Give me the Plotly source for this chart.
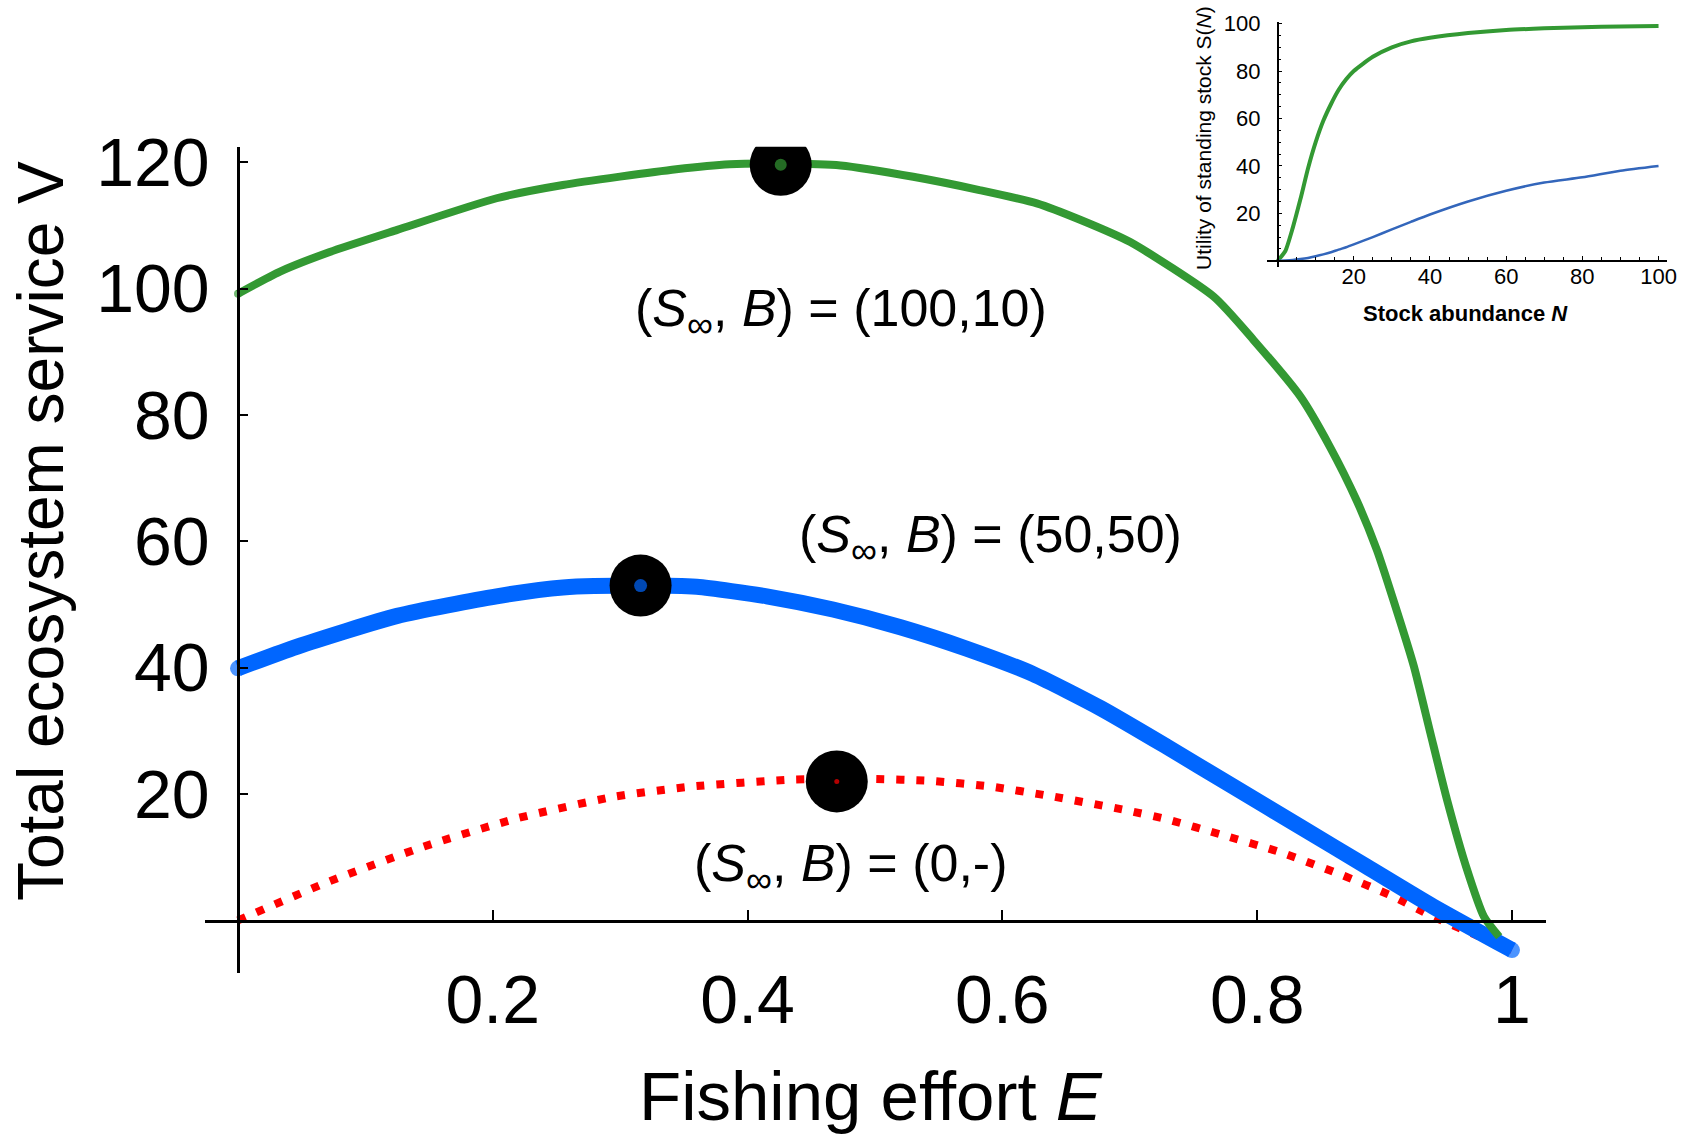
import plotly.graph_objects as go

# ---- Main panel: total ecosystem service V versus fishing effort E ----
# (S_inf, B) = (100, 10)
E_high = [0, 0.033, 0.072, 0.125, 0.203, 0.255, 0.344, 0.386, 0.426, 0.473, 0.530,
          0.582, 0.627, 0.661, 0.700, 0.766, 0.797, 0.834, 0.857, 0.878, 0.894,
          0.911, 0.923, 0.936, 0.949, 0.964, 0.978, 0.990]
V_high = [99.2, 102.7, 105.8, 109.3, 114.3, 116.4, 118.9, 119.7, 119.8, 119.5, 117.7,
          115.6, 113.5, 110.9, 107.4, 98.7, 91.9, 82.9, 75.0, 66.5, 58.6,
          48.1, 40.2, 29.6, 19.1, 8.5, 0.6, -2.6]

# (S_inf, B) = (50, 50)
E_mid = [0, 0.046, 0.125, 0.203, 0.255, 0.316, 0.360, 0.415, 0.467, 0.520, 0.572,
         0.624, 0.677, 0.729, 0.781, 0.834, 0.886, 0.938, 1.0]
V_mid = [39.9, 43.3, 48.2, 51.3, 52.7, 53.0, 52.8, 51.3, 49.2, 46.4, 43.0,
         39.0, 33.6, 27.5, 21.2, 14.8, 8.5, 2.2, -4.7]

# (S_inf, B) = (0, -)
E_zero = [0, 0.072, 0.146, 0.220, 0.296, 0.357, 0.436, 0.470, 0.497, 0.543, 0.590,
          0.637, 0.698, 0.729, 0.773, 0.818, 0.865, 0.907, 0.938, 1.0]
V_zero = [0, 6.2, 11.7, 16.2, 19.6, 21.2, 22.3, 22.4, 22.4, 22.1, 21.2,
          19.7, 17.4, 16.0, 13.5, 10.8, 7.3, 3.75, 0.6, -4.7]

# Optimal effort of each case
opt_E = [0.426, 0.316, 0.470]
opt_V = [119.6, 53.0, 22.0]

x_ticks = [0.2, 0.4, 0.6, 0.8, 1.0]
x_tick_text = ["0.2", "0.4", "0.6", "0.8", "1"]
y_ticks = [20, 40, 60, 80, 100, 120]

case_labels = [
    "(<i>S</i><sub>\u221e</sub>, <i>B</i>) = (100,10)",
    "(<i>S</i><sub>\u221e</sub>, <i>B</i>) = (50,50)",
    "(<i>S</i><sub>\u221e</sub>, <i>B</i>) = (0,-)",
]
label_E = [0.473, 0.591, 0.481]
label_V = [96.3, 60.5, 8.5]

# ---- Inset: utility of standing stock S(N) ----
N_stock = [0, 2, 4, 6, 8, 10, 12, 14, 16, 18, 20, 25, 30, 35, 40, 50, 60, 70, 80, 90, 100]
S_high = [0, 4, 14, 26, 39, 50, 59, 66, 72, 76.5, 80, 86, 90, 92.5, 94, 96, 97.3, 98, 98.5, 98.8, 99]
S_mid = [0, 0.1, 0.3, 0.7, 1.2, 1.9, 2.7, 3.6, 4.7, 5.7, 6.9, 10, 13.2, 16.4, 19.5, 25, 29.5, 33, 35.2, 38, 40]
inset_x_ticks = [20, 40, 60, 80, 100]
inset_y_ticks = [20, 40, 60, 80, 100]

GREEN = "#339933"
BLUE = "#0066FF"
RED = "#FF0000"
INSET_BLUE = "#3366BB"
FONT = "Liberation Sans, Arial, sans-serif"

W, H = 1689, 1135


def px_x(p):
    return p / W


def px_y(p):
    return (H - p) / H


fig = go.Figure()

# dotted yield-only curve
fig.add_trace(go.Scatter(
    x=E_zero, y=V_zero, mode="lines",
    line=dict(color=RED, width=8, dash="8px,12px", shape="spline", smoothing=0.6),
    hoverinfo="skip"))

# thick blue curve with rounded ends
n_mid = len(E_mid)
fig.add_trace(go.Scatter(
    x=E_mid, y=V_mid, mode="lines+markers",
    line=dict(color=BLUE, width=16, shape="spline", smoothing=0.6),
    marker=dict(color=BLUE, size=[16] + [0] * (n_mid - 2) + [16], line=dict(width=0)),
    hoverinfo="skip"))

# green curve
n_high = len(E_high)
fig.add_trace(go.Scatter(
    x=E_high, y=V_high, mode="lines+markers",
    line=dict(color=GREEN, width=8, shape="spline", smoothing=0.6),
    marker=dict(color=GREEN, size=[8] + [0] * (n_high - 1), line=dict(width=0)),
    hoverinfo="skip"))

# optimum markers
fig.add_trace(go.Scatter(
    x=opt_E, y=opt_V, mode="markers",
    marker=dict(color="black", size=62, line=dict(width=0)),
    hoverinfo="skip"))
fig.add_trace(go.Scatter(
    x=opt_E, y=opt_V, mode="markers",
    marker=dict(color=[GREEN, BLUE, RED], size=[12, 13, 5], line=dict(width=0)),
    hoverinfo="skip"))

# inset curves
fig.add_trace(go.Scatter(
    x=N_stock, y=S_high, mode="lines", xaxis="x2", yaxis="y2",
    line=dict(color=GREEN, width=4, shape="spline", smoothing=0.6), hoverinfo="skip"))
fig.add_trace(go.Scatter(
    x=N_stock, y=S_mid, mode="lines", xaxis="x2", yaxis="y2",
    line=dict(color=INSET_BLUE, width=2.5, shape="spline", smoothing=0.6), hoverinfo="skip"))

annotations = []
for txt, ex, vy in zip(case_labels, label_E, label_V):
    annotations.append(dict(
        x=ex, y=vy, xref="x", yref="y", text=txt, showarrow=False,
        font=dict(family=FONT, size=52, color="black"),
        xanchor="center", yanchor="middle"))

# axis titles
annotations.append(dict(
    x=px_x(871), y=px_y(1096), xref="paper", yref="paper",
    text="Fishing effort <i>E</i>", showarrow=False,
    font=dict(family=FONT, size=69, color="black"),
    xanchor="center", yanchor="middle"))
annotations.append(dict(
    x=px_x(41), y=px_y(531), xref="paper", yref="paper",
    text="Total ecosystem service V", showarrow=False, textangle=-90,
    font=dict(family=FONT, size=64, color="black"),
    xanchor="center", yanchor="middle"))
annotations.append(dict(
    x=px_x(1465), y=px_y(314), xref="paper", yref="paper",
    text="<b>Stock abundance <i>N</i></b>", showarrow=False,
    font=dict(family=FONT, size=22, color="black"),
    xanchor="center", yanchor="middle"))
annotations.append(dict(
    x=px_x(1203), y=px_y(138), xref="paper", yref="paper",
    text="Utility of standing stock S(<i>N</i>)", showarrow=False, textangle=-90,
    font=dict(family=FONT, size=21, color="black"),
    xanchor="center", yanchor="middle"))

main_axis = dict(
    showline=True, linecolor="black", linewidth=2.5,
    ticks="inside", tickcolor="black", tickwidth=2,
    showgrid=False, zeroline=False, automargin=False,
    tickfont=dict(family=FONT, size=68, color="black"),
    anchor="free",
)
inset_axis = dict(
    showline=True, linecolor="black", linewidth=1.5,
    ticks="inside", tickcolor="black", tickwidth=1.2, ticklen=4,
    minor=dict(dtick=5, ticks="inside", ticklen=3, tickcolor="black", tickwidth=1),
    showgrid=False, zeroline=False, automargin=False,
    tickfont=dict(family=FONT, size=22, color="black"),
    anchor="free",
)

fig.update_layout(
    width=W, height=H,
    margin=dict(l=0, r=0, t=0, b=0, autoexpand=False),
    paper_bgcolor="white", plot_bgcolor="white",
    showlegend=False,
    xaxis=dict(main_axis, domain=[px_x(205), px_x(1546)], range=[-0.0259, 1.0267],
               position=px_y(921), tickvals=x_ticks, ticktext=x_tick_text,
               ticklen=10, ticklabelstandoff=19),
    yaxis=dict(main_axis, domain=[px_y(972.7), px_y(146.7)], range=[-8.28, 122.46],
               position=px_x(238), tickvals=y_ticks, ticklen=8, ticklabelstandoff=14),
    xaxis2=dict(inset_axis, domain=[px_x(1267.3), px_x(1667.3)], range=[-2.7, 102.3],
                position=px_y(260.7), tickvals=inset_x_ticks, ticklabelstandoff=-4),
    yaxis2=dict(inset_axis, domain=[px_y(266.7), px_y(21.7)], range=[-2.5, 100.8],
                position=px_x(1277.7), tickvals=inset_y_ticks, ticklabelstandoff=12),
    annotations=annotations,
)

fig.write_html("out.html")
